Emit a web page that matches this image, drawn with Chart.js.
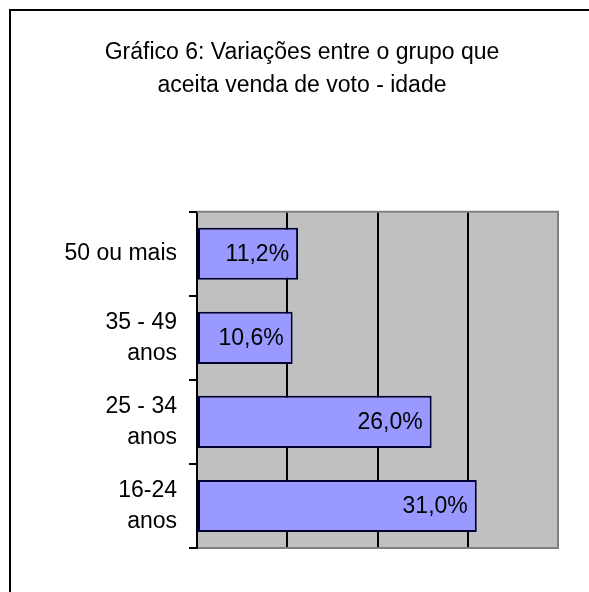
<!DOCTYPE html>
<html>
<head>
<meta charset="utf-8">
<script src="https://cdn.jsdelivr.net/npm/chart.js@4"></script>
<style>
  body { margin: 0; background: #fff; }
</style>
</head>
<body>
<canvas id="chart" width="589" height="592"></canvas>
<script>
const faixas = [["50 ou mais"], ["35 - 49", "anos"], ["25 - 34", "anos"], ["16-24", "anos"]];
const percentuais = [11.2, 10.6, 26.0, 31.0];
const titulo = ["Gráfico 6: Variações entre o grupo que", "aceita venda de voto - idade"];
const eixoMax = 40;
const eixoPasso = 10;

const fonte = "Arial, 'Liberation Sans', sans-serif";

// fundo cinza e moldura da área do gráfico
const fundoPlot = {
    id: 'fundoPlot',
    beforeDraw(chart) {
        const { ctx, chartArea: a } = chart;
        ctx.save();
        ctx.fillStyle = '#fff';
        ctx.fillRect(0, 0, chart.width, chart.height);
        ctx.fillStyle = '#c0c0c0';
        ctx.fillRect(a.left, a.top, a.right - a.left, a.bottom - a.top);
        // moldura externa (esquerda e topo)
        ctx.fillStyle = '#000';
        ctx.fillRect(9, 9, 2, chart.height);
        ctx.fillRect(9, 9, chart.width, 2);
        ctx.restore();
    },
    beforeDatasetsDraw(chart) {
        const { ctx, chartArea: a } = chart;
        ctx.save();
        ctx.strokeStyle = '#808080';
        ctx.lineWidth = 2;
        ctx.beginPath();
        ctx.moveTo(a.left, a.top);
        ctx.lineTo(a.right, a.top);
        ctx.lineTo(a.right, a.bottom);
        ctx.stroke();
        ctx.restore();
    }
};

// rótulos de valor dentro da ponta da barra
const rotulos = {
    id: 'rotulos',
    afterDatasetsDraw(chart) {
        const { ctx } = chart;
        const meta = chart.getDatasetMeta(0);
        ctx.save();
        ctx.font = '23px ' + fonte;
        ctx.fillStyle = '#000';
        ctx.textAlign = 'right';
        ctx.textBaseline = 'middle';
        meta.data.forEach((bar, i) => {
            const txt = percentuais[i].toFixed(1).replace('.', ',') + '%';
            ctx.fillText(txt, bar.x - 9, bar.y + 1);
        });
        ctx.restore();
    }
};

new Chart(document.getElementById('chart'), {
    type: 'bar',
    data: {
        labels: faixas,
        datasets: [{
            data: percentuais,
            backgroundColor: '#9999ff',
            borderColor: '#000033',
            borderWidth: 2,
            borderSkipped: false,
            barPercentage: 0.62,
            categoryPercentage: 1
        }]
    },
    options: {
        indexAxis: 'y',
        responsive: false,
        animation: false,
        layout: { padding: { left: 46, right: 31, top: 0, bottom: 44 } },
        plugins: {
            legend: { display: false },
            tooltip: { enabled: false },
            title: {
                display: true,
                text: titulo,
                color: '#000',
                font: { family: fonte, size: 23, weight: 'normal', lineHeight: 1.45 },
                padding: { top: 36, bottom: 109 }
            }
        },
        scales: {
            x: {
                min: 0,
                max: eixoMax,
                ticks: { display: false, stepSize: eixoPasso },
                grid: {
                    drawTicks: false,
                    lineWidth: 2,
                    color: ctx => (ctx.tick && ctx.tick.value > 0 && ctx.tick.value < eixoMax) ? '#000' : 'rgba(0,0,0,0)'
                },
                border: { display: true, color: '#808080', width: 2 },
                afterFit(s) { s.height = 0; }
            },
            y: {
                grid: {
                    drawOnChartArea: false,
                    drawTicks: true,
                    tickLength: 8,
                    lineWidth: 2,
                    color: '#000'
                },
                border: { display: true, color: '#000', width: 2 },
                ticks: {
                    color: '#000',
                    padding: 12,
                    font: { family: fonte, size: 23, lineHeight: 1.35 }
                },
                afterFit(s) { s.width = 151; }
            }
        }
    },
    plugins: [fundoPlot, rotulos]
});
</script>
</body>
</html>
